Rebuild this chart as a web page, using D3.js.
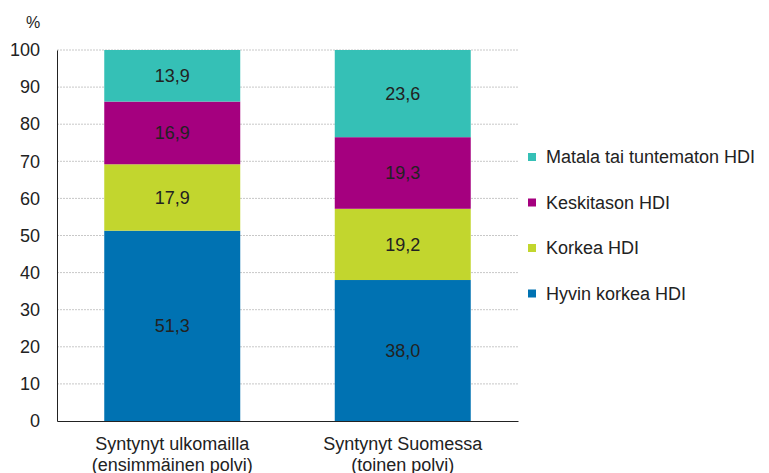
<!DOCTYPE html>
<html>
<head>
<meta charset="utf-8">
<script src="https://cdn.jsdelivr.net/npm/d3@7"></script>
<style>
  body { margin: 0; background: #fff; }
  text { font-family: "Liberation Sans", Arial, sans-serif; fill: #222; }
</style>
</head>
<body>
<div id="chart"></div>
<script>
const categories = [
  ['Syntynyt ulkomailla', '(ensimmäinen polvi)'],
  ['Syntynyt Suomessa', '(toinen polvi)'],
];
const seriesNames = ['Hyvin korkea HDI', 'Korkea HDI', 'Keskitason HDI', 'Matala tai tuntematon HDI'];
const hyvinKorkea = [51.3, 38.0];
const korkea = [17.9, 19.2];
const keskitaso = [16.9, 19.3];
const matala = [13.9, 23.6];
const yTicks = [0, 10, 20, 30, 40, 50, 60, 70, 80, 90, 100];
const colors = ['#0072b2', '#c2d62e', '#a5007f', '#35c0b6'];

const width = 769, height = 473;
const margin = { top: 50, right: 251, bottom: 52, left: 57 };
const innerW = width - margin.left - margin.right;
const innerH = height - margin.top - margin.bottom;
const fontSize = 18;

const svg = d3.select('#chart').append('svg')
  .attr('width', width)
  .attr('height', height);

const g = svg.append('g')
  .attr('transform', `translate(${margin.left},${margin.top})`);

const x = d3.scaleBand().domain(d3.range(categories.length)).range([0, innerW])
  .paddingInner(0.41).paddingOuter(0.205);
const y = d3.scaleLinear().domain([0, 100]).range([innerH, 0]);

// gridlines
g.append('g')
  .selectAll('line')
  .data(yTicks.filter((t) => t > 0))
  .join('line')
  .attr('x1', 0).attr('x2', innerW)
  .attr('y1', (d) => y(d)).attr('y2', (d) => y(d))
  .attr('stroke', '#c8c8c8')
  .attr('stroke-dasharray', '2,1');

const table = categories.map((c, i) => ({
  i,
  h0: hyvinKorkea[i], h1: korkea[i], h2: keskitaso[i], h3: matala[i],
}));
const stack = d3.stack().keys(['h0', 'h1', 'h2', 'h3'])(table);
const fmt = (v) => d3.format('.1f')(v).replace('.', ',');

stack.forEach((layer, k) => {
  const lg = g.append('g');
  lg.selectAll('rect')
    .data(layer)
    .join('rect')
    .attr('x', (d) => x(d.data.i))
    .attr('width', x.bandwidth())
    .attr('y', (d) => y(Math.min(d[1], 100)))
    .attr('height', (d) => y(d[0]) - y(Math.min(d[1], 100)))
    .attr('fill', colors[k]);
  lg.selectAll('text')
    .data(layer)
    .join('text')
    .attr('x', (d) => x(d.data.i) + x.bandwidth() / 2)
    .attr('y', (d) => y((d[0] + Math.min(d[1], 100)) / 2))
    .attr('dy', '0.35em')
    .attr('text-anchor', 'middle')
    .attr('font-size', fontSize)
    .text((d) => fmt(d[1] - d[0]));
});

// y axis
const yAxis = g.append('g')
  .call(d3.axisLeft(y).tickValues(yTicks).tickSize(0).tickPadding(17));
yAxis.select('.domain').attr('stroke', '#222');
yAxis.selectAll('text').attr('font-size', fontSize).style('font-family', '"Liberation Sans", Arial, sans-serif').attr('fill', '#222');

// x axis
const xAxis = g.append('g')
  .attr('transform', `translate(0,${innerH})`)
  .call(d3.axisBottom(x).tickSize(0).tickFormat(''));
xAxis.select('.domain').attr('stroke', '#222');

g.append('g').selectAll('text')
  .data(categories)
  .join('text')
  .attr('x', (d, i) => x(i) + x.bandwidth() / 2)
  .attr('y', innerH + 29)
  .attr('text-anchor', 'middle')
  .attr('font-size', fontSize)
  .selectAll('tspan')
  .data((d) => d)
  .join('tspan')
  .attr('x', function () { return d3.select(this.parentNode).attr('x'); })
  .attr('dy', (d, j) => (j === 0 ? 0 : 21))
  .text((d) => d);

svg.append('text')
  .attr('x', 26).attr('y', 28)
  .attr('font-size', 16)
  .text('%');

// legend
const legend = svg.append('g').attr('transform', 'translate(528,157)');
const legendOrder = [3, 2, 1, 0];
legendOrder.forEach((k, row) => {
  const item = legend.append('g').attr('transform', `translate(0,${row * 45.5})`);
  item.append('rect')
    .attr('x', 0).attr('y', -4)
    .attr('width', 8).attr('height', 8)
    .attr('fill', colors[k]);
  item.append('text')
    .attr('x', 18).attr('y', 0)
    .attr('dy', '0.35em')
    .attr('font-size', fontSize)
    .text(seriesNames[k]);
});
</script>
</body>
</html>
